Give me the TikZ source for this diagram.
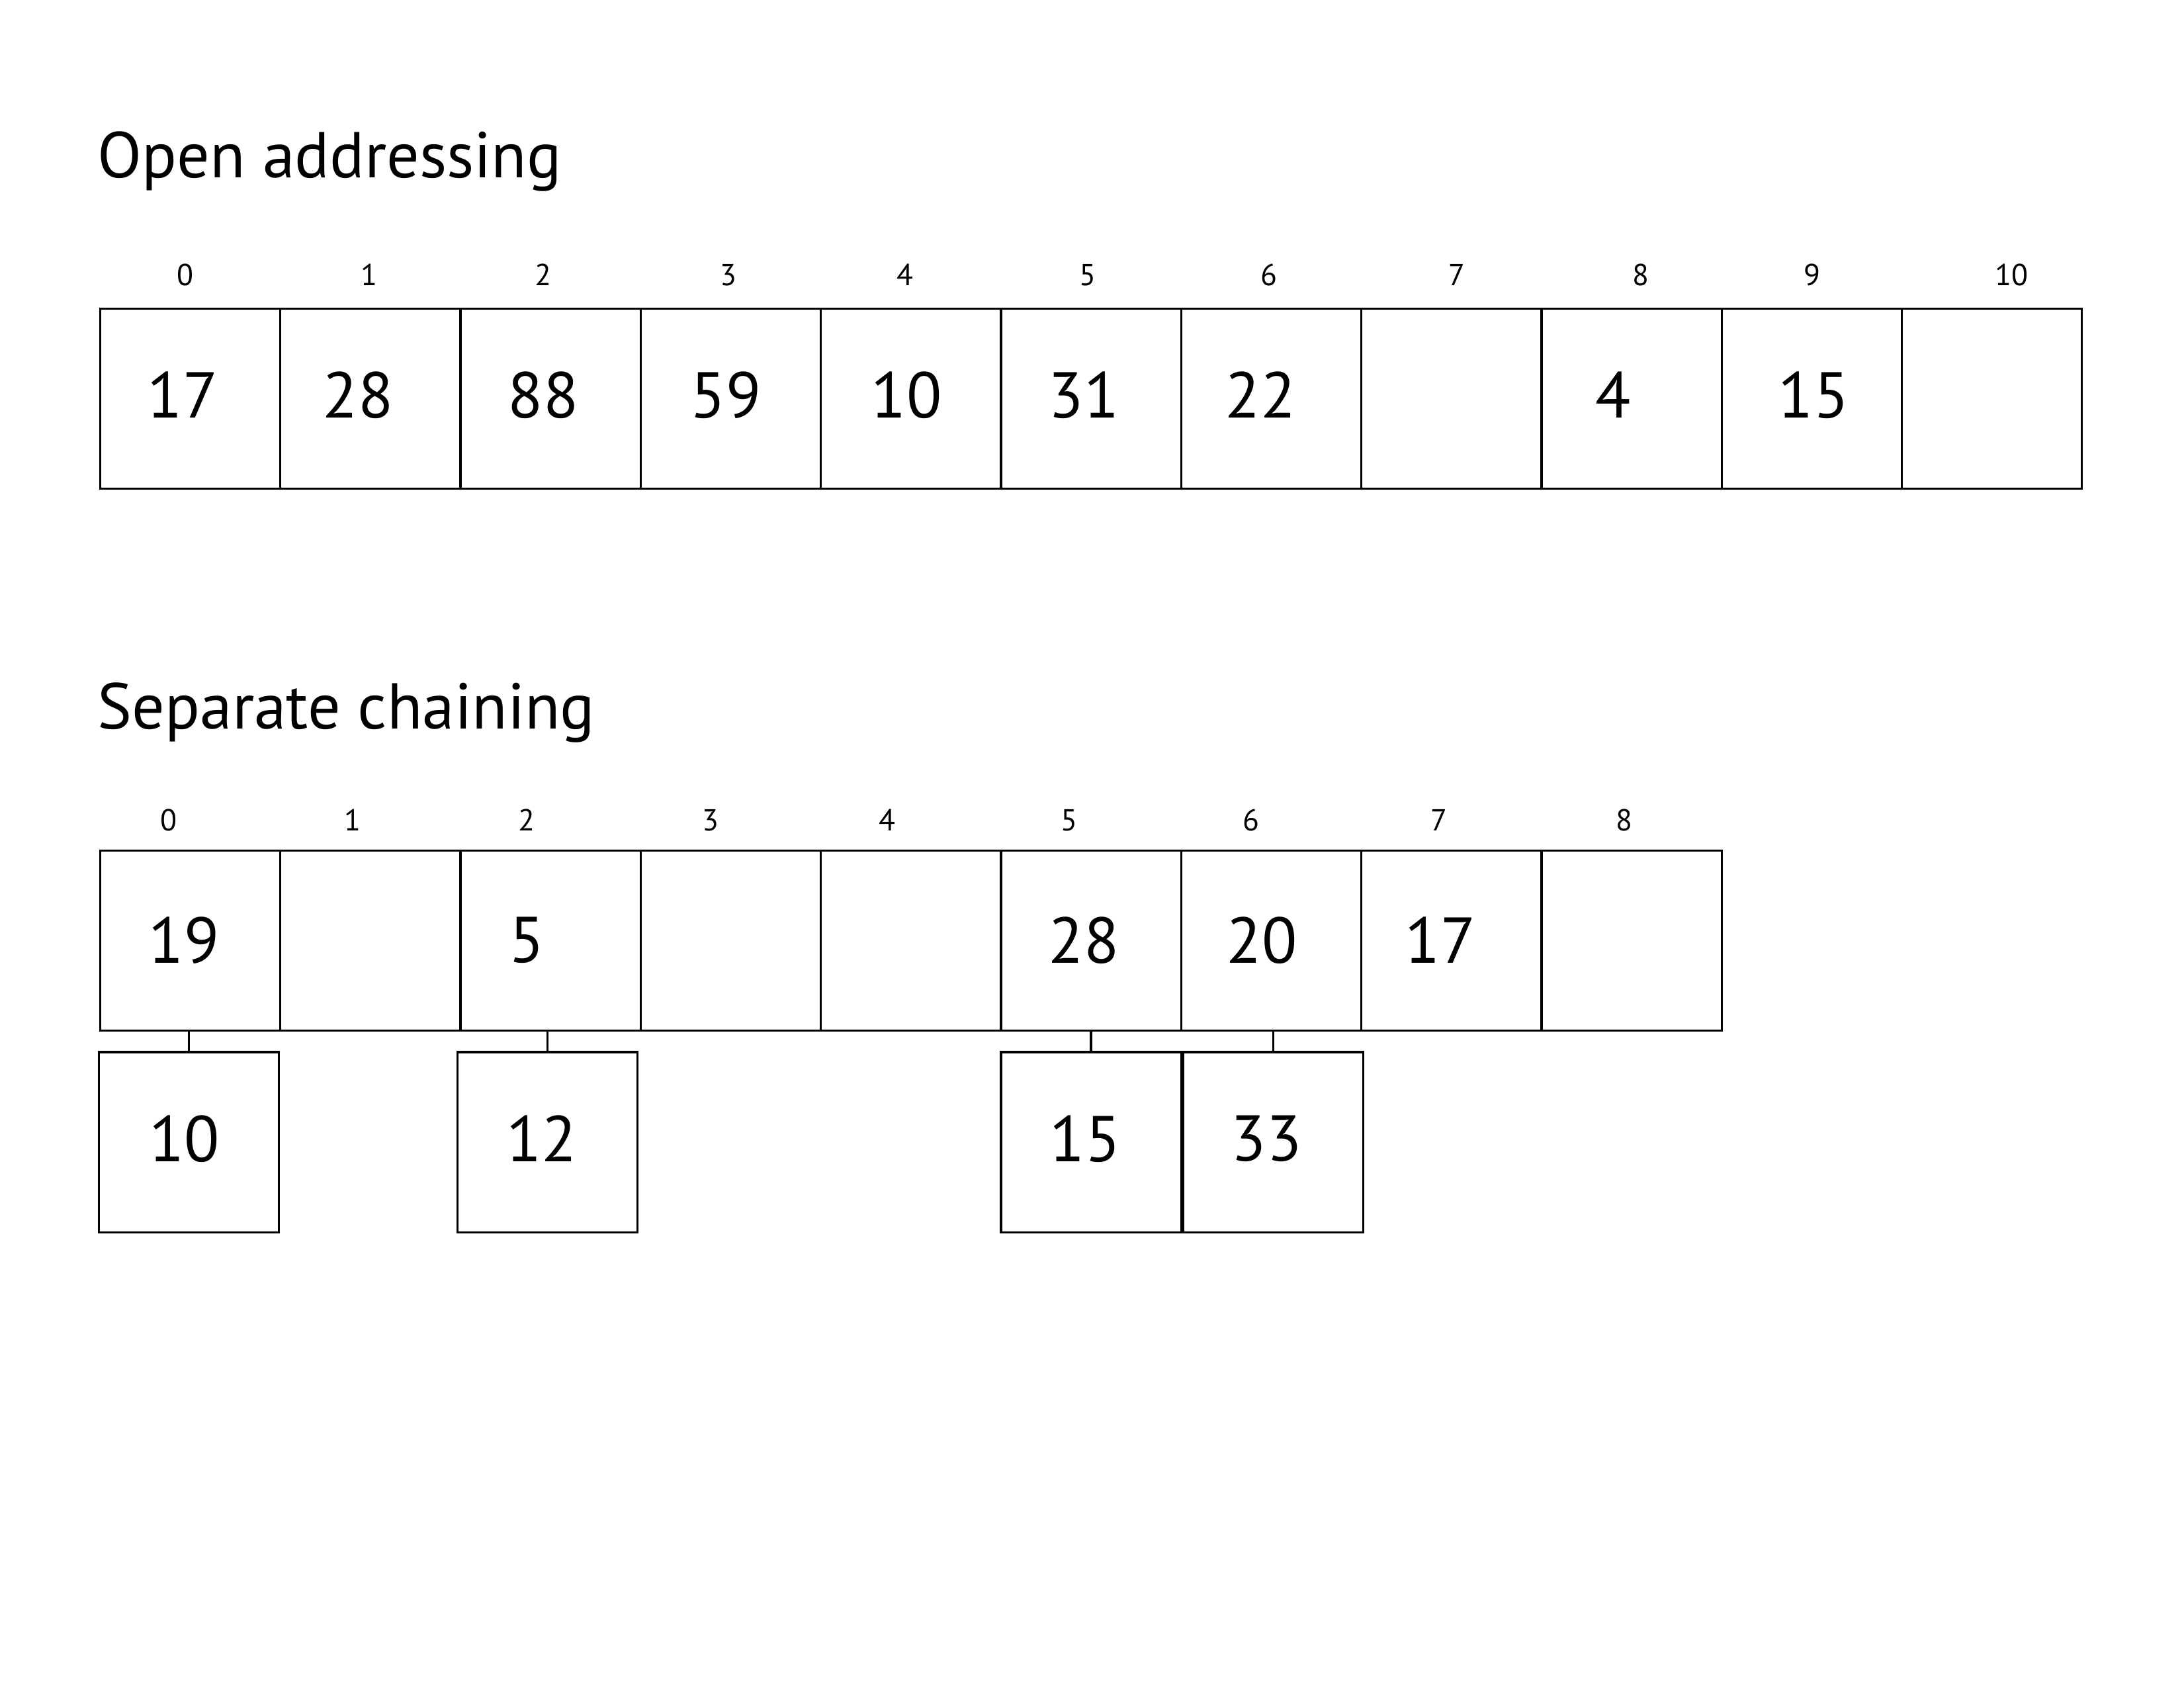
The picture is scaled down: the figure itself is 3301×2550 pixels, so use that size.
\documentclass[tikz,border=0pt]{standalone}
\usepackage{fontspec}
\setmainfont{PT Sans}
\begin{document}
\begin{tikzpicture}[x=0.24pt,y=-0.24pt,
  cell/.style={draw=black,line width=0.78pt,minimum width=65.35pt,minimum height=65.35pt,inner sep=0pt},
  idx/.style={inner sep=0pt,font=\fontsize{11}{13}\selectfont},
  val/.style={inner sep=0pt,font=\fontsize{23.5}{28}\selectfont},
  head/.style={inner sep=0pt,anchor=base west,font=\fontsize{23.5}{28}\selectfont},
  link/.style={draw=black,line width=0.78pt}]
\fill[white] (0,0) rectangle (3301,2550);
\useasboundingbox (0,0) rectangle (3301,2550);
% headings
\node[head] (h1) at (147,268) {Open addressing};
\node[head] (h2) at (147,1101) {Separate chaining};
% open addressing table
\foreach \i in {0,...,10} {
  \node[cell] (t\i) at ({287.65+272.3*\i},602.5) {};
}
\foreach \i/\x in {0/280,1/558,2/821,3/1101,4/1368,5/1644,6/1918,7/2202,8/2480,9/2739,10/3040} {
  \node[idx] (ti\i) at (\x,415.5) {\i};
}
\foreach \i/\x/\v in {0/276/17,1/541/28,2/821/88,3/1097/59,4/1370/10,5/1638/31,6/1905/22,8/2438/4,9/2741/15} {
  \node[val] (tv\i) at (\x,597) {\v};
}
% separate chaining table
\foreach \i in {0,...,8} {
  \node[cell] (b\i) at ({287.65+272.3*\i},1421.6) {};
}
\foreach \i/\x in {0/255,1/533,2/796,3/1074,4/1341,5/1616,6/1891,7/2175,8/2455} {
  \node[idx] (bi\i) at (\x,1239.4) {\i};
}
\foreach \i/\x/\v in {0/278/19,2/796/5,5/1638/28,6/1907/20,7/2177/17} {
  \node[val] (bv\i) at (\x,1421) {\v};
}
% chains
\node[cell] (c0) at (285.7,1726.2) {};
\node[cell] (c2) at (827.5,1726.2) {};
\node[cell] (c5) at (1649.1,1726.2) {};
\node[cell] (c6) at (1924.4,1726.2) {};
\node[val] (cv0) at (278.5,1721) {10};
\node[val] (cv2) at (818.7,1721) {12};
\node[val] (cv5) at (1640,1721) {15};
\node[val] (cv6) at (1914,1721) {33};
\draw[link] (c0.north) -- (c0.north |- b0.south);
\draw[link] (c2.north) -- (c2.north |- b2.south);
\draw[link] (c5.north) -- (c5.north |- b5.south);
\draw[link] (c6.north) -- (c6.north |- b6.south);
\end{tikzpicture}
\end{document}
